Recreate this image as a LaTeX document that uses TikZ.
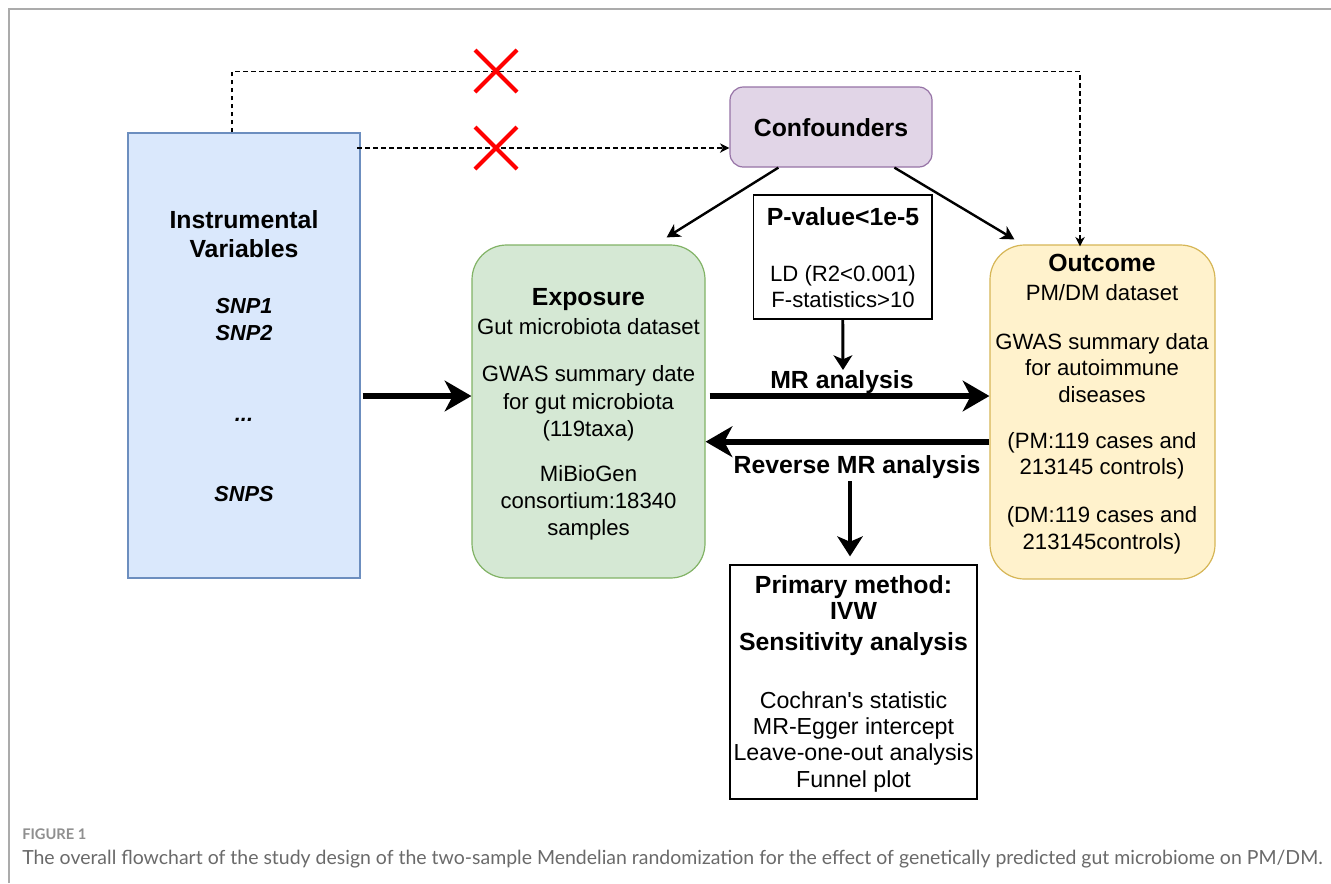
\documentclass[tikz,border=0pt]{standalone}
\usepackage{fontspec}
\setmainfont{Liberation Sans}
\newfontfamily\qfont{Liberation Sans}[Ligatures=ResetAll]
\newfontfamily\capfont{Lato}
\usetikzlibrary{arrows.meta,fit,calc}
\definecolor{ivfill}{HTML}{DAE8FC}
\definecolor{ivdraw}{HTML}{6C8EBF}
\definecolor{expfill}{HTML}{D5E8D4}
\definecolor{expdraw}{HTML}{82B366}
\definecolor{outfill}{HTML}{FFF2CC}
\definecolor{outdraw}{HTML}{D6B656}
\definecolor{conffill}{HTML}{E1D5E7}
\definecolor{confdraw}{HTML}{9673A6}
\definecolor{framegray}{HTML}{ABABAB}
\definecolor{capgray}{HTML}{6A6A6A}
\begin{document}
\begin{tikzpicture}[x=0.75pt,y=-0.75pt,
  box/.style={draw, line width=0.9pt, inner sep=0pt},
  ivbox/.style={box, fill=ivfill, draw=ivdraw},
  expbox/.style={box, fill=expfill, draw=expdraw, rounded corners=26pt},
  outbox/.style={box, fill=outfill, draw=outdraw, rounded corners=26pt},
  confbox/.style={box, fill=conffill, draw=confdraw, rounded corners=10pt},
  plainbox/.style={box, draw=black, fill=white},
  txt/.style={anchor=base, inner sep=0pt, font=\fontsize{16.6}{20}\selectfont},
  ptxt/.style={anchor=base, inner sep=0pt, font=\fontsize{17.4}{21}\selectfont},
  hd/.style={anchor=base, inner sep=0pt, font=\bfseries\fontsize{18.6}{22}\selectfont},
  snp/.style={anchor=base, inner sep=0pt, font=\bfseries\itshape\fontsize{16.3}{20}\selectfont},
  dasharr/.style={line width=1.1pt, dash pattern=on 3.5pt off 2.5pt, -{Stealth[length=7pt,width=7pt,inset=2pt]}},
  thickarr/.style={line width=4.5pt, -{Stealth[length=20pt,width=23pt,inset=6pt]}},
  midarr/.style={line width=3pt, -{Stealth[length=15pt,width=19pt,inset=4pt]}},
  smallarr/.style={line width=2.2pt, -{Stealth[length=11pt,width=14pt,inset=3pt]}},
  thinarr/.style={line width=1.8pt, -{Stealth[length=10pt,width=11pt,inset=3pt]}},
  redx/.style={draw=red, line width=3pt}
]
\useasboundingbox (0,0) rectangle (1331,883);
\fill[white] (0,0) rectangle (1331,883);
% frame
\draw[framegray, line width=1.5pt] (9,883) -- (9,8.5) -- (1331,8.5);

% boxes
\node[ivbox, fit={(128,133) (360,578)}] (iv) {};
\node[expbox, fit={(472,245) (705,578)}] (expo) {};
\node[outbox, fit={(990,245) (1215,579)}] (outc) {};
\node[confbox, fit={(730,87) (932,167)}] (conf) {};
\node[plainbox, fit={(753.5,195) (932,319)}] (pbox) {};
\node[plainbox, fit={(730,565) (977,799)}] (prim) {};

% IV text
\node[hd] (iv1) at (244,228) {Instrumental};
\node[hd] (iv2) at (244,257) {Variables};
\node[snp] (iv3) at (244,313.5) {SNP1};
\node[snp] (iv4) at (244,340) {SNP2};
\node[snp] (iv5) at (244,421.5) {...};
\node[snp] (iv6) at (244,501) {SNPS};

% Exposure text
\node[hd] (e1) at (588.5,305) {Exposure};
\node[txt] (e2) at (588.5,334) {Gut microbiota dataset};
\node[txt] (e3) at (588.5,381) {GWAS summary date};
\node[txt] (e4) at (588.5,409) {for gut microbiota};
\node[txt] (e5) at (588.5,436) {(119taxa)};
\node[txt] (e6) at (588.5,481) {MiBioGen};
\node[txt] (e7) at (588.5,508) {consortium:18340};
\node[txt] (e8) at (588.5,535) {samples};

% Outcome text
\node[hd] (o1) at (1102,271) {Outcome};
\node[txt] (o2) at (1102,300) {PM/DM dataset};
\node[txt] (o3) at (1102,349) {GWAS summary data};
\node[txt] (o4) at (1102,375) {for autoimmune};
\node[txt] (o5) at (1102,402) {diseases};
\node[txt] (o6) at (1102,448) {(PM:119 cases and};
\node[txt] (o7) at (1102,474) {213145 controls)};
\node[txt] (o8) at (1102,522) {(DM:119 cases and};
\node[txt] (o9) at (1102,549) {213145controls)};

% Confounders & P-value
\node[hd] (c1) at (831,136) {Confounders};
\node[hd] (p1) at (843,225) {P-value<1e-5};
\node[txt] (p2) at (843,281) {LD (R2<0.001)};
\node[txt] (p3) at (843,307) {F-statistics>10};

% Primary box text
\node[hd] (m1) at (853.5,593) {Primary method:};
\node[hd] (m2) at (853.5,619) {IVW};
\node[hd] (m3) at (853.5,650) {Sensitivity analysis};
\node[ptxt] (m4) at (853.5,708) {\qfont Cochran's statistic};
\node[ptxt] (m5) at (853.5,734) {MR-Egger intercept};
\node[ptxt] (m6) at (853.5,760) {Leave-one-out analysis};
\node[ptxt] (m7) at (853.5,787) {Funnel plot};

% arrow labels
\node[hd] (mr) at (842,388) {MR analysis};
\node[hd] (rmr) at (857,473) {Reverse MR analysis};

% dashed connectors
\coordinate (k1) at (232,71.7);
\coordinate (k2) at (1080,71.7);
\draw[dasharr] (iv.north -| k1) -- (k1) -- (k2) -- ($(k2 |- outc.north)+(0,2)$);
\coordinate (k3) at (357,148);
\draw[dasharr] (k3) -- (conf.west |- k3);

% red crosses
\coordinate (x1) at (496,71);
\coordinate (x2) at (496,148);
\draw[redx] ($(x1)+(-21,-21)$) -- ($(x1)+(21,21)$);
\draw[redx] ($(x1)+(21,-21)$) -- ($(x1)+(-21,21)$);
\draw[redx] ($(x2)+(-21,-21)$) -- ($(x2)+(21,21)$);
\draw[redx] ($(x2)+(21,-21)$) -- ($(x2)+(-21,21)$);

% confounder arrows
\draw[thinarr] ($(conf.south west)+(49,0)$) -- ($(expo.north east)+(-39,-7)$);
\draw[thinarr] ($(conf.south west)+(165,0)$) -- ($(outc.north west)+(25,-5)$);

% p-value arrow
\coordinate (ptip) at (843,370);
\draw[smallarr] (pbox.south) -- (ptip);

% main thick arrows
\coordinate (y1) at (0,396);
\coordinate (y2) at (0,441.7);
\draw[thickarr, shorten <=1.5pt] (iv.east |- y1) -- (expo.west |- y1);
\draw[thickarr, shorten <=3pt] (expo.east |- y1) -- (outc.west |- y1);
\draw[thickarr] (outc.west |- y2) -- (expo.east |- y2);

% down arrow to primary
\coordinate (dstart) at (850,481);
\draw[midarr, shorten >=6pt] (dstart) -- (prim.north -| dstart);

% caption
\node[anchor=base west, inner sep=0pt, text=capgray!75, font=\capfont\bfseries\fontsize{11}{13}\selectfont] (fig) at (22,839) {FIGURE 1};
\node[anchor=base west, inner sep=0pt, text=capgray, font=\capfont\fontsize{14.6}{17}\selectfont] (cap) at (22,864) {The overall flowchart of the study design of the two-sample Mendelian randomization for the effect of genetically predicted gut microbiome on PM/DM.};
\end{tikzpicture}
\end{document}
